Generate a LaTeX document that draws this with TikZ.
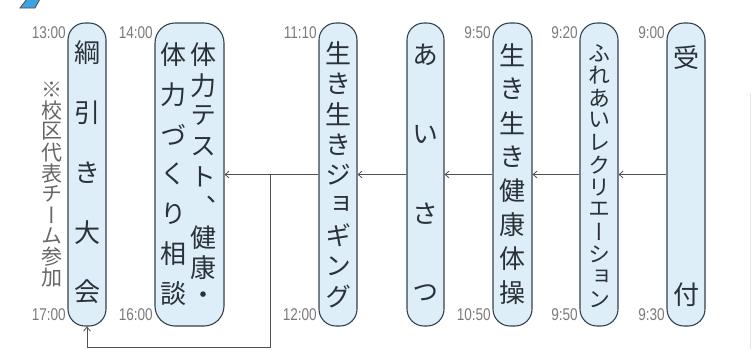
\documentclass[tikz,border=0pt]{standalone}
\usepackage{fontspec}
\setmainfont{Liberation Sans}
\newfontfamily\jpv[RawFeature=+vert]{Noto Sans CJK JP}
\usetikzlibrary{arrows.meta}
\definecolor{pillfill}{HTML}{DDEEF9}
\definecolor{pilldraw}{HTML}{34414E}
\definecolor{linec}{HTML}{505050}
\definecolor{timec}{HTML}{7A7A7A}
\definecolor{notec}{HTML}{666666}
\definecolor{textc}{HTML}{2B3138}
\definecolor{flagblue}{HTML}{3DA3E3}
\newcommand{\vtext}[5][]{%
  \foreach \c [count=\i] in {#5} \node[ch,#1] (#2\i) at (#3,{#4+(\i-1)*\vstep}) {\c};}
\newcommand{\tm}[1]{\scalebox{0.8}[1]{#1}}
\begin{document}
\begin{tikzpicture}[x=1pt,y=-1pt,
  pill/.style={draw=pilldraw, line width=1.1pt, fill=pillfill, rounded corners=17pt,
    inner sep=0pt, minimum height=303pt, minimum width=38pt},
  ch/.style={font=\jpv\fontsize{26}{26}\selectfont, text=textc, inner sep=0pt},
  small/.style={font=\jpv\fontsize{22}{22}\selectfont},
  note/.style={font=\jpv\fontsize{21}{21}\selectfont, text=notec},
  tim/.style={font=\fontsize{17}{17}\selectfont, text=timec, inner sep=0pt, anchor=east},
  conn/.style={draw=linec, line width=0.8pt},
  arr/.style={conn, -{Straight Barb[length=4pt,width=7pt]}}]
\useasboundingbox (0,0) rectangle (752,349);
% decorations
\filldraw[fill=flagblue, draw=black!70, line width=0.8pt] (20,8) -- (27,-1) -- (40,-1) -- (35,8) -- cycle;
\draw[black!10, line width=1pt] (750,93) -- (750,349);
% boxes
\node[pill] (tug) at (87,174.5) {};
\node[pill, rounded corners=20pt, minimum width=69pt] (fit) at (189.5,174.5) {};
\node[pill] (jog) at (338,174.5) {};
\node[pill, minimum width=37pt] (aisatsu) at (425.5,174.5) {};
\node[pill, minimum width=39pt] (taiso) at (512.5,174.5) {};
\node[pill] (rec) at (599,174.5) {};
\node[pill] (uke) at (686,174.5) {};
% texts
\def\vstep{59.75}\vtext{tg}{87}{53}{綱,引,き,大,会}
\def\vstep{30.4}\vtext{fr}{203}{55}{体,力,テ,ス,ト,、,健,康,・}
\def\vstep{39.7}\vtext{fl}{173}{55}{体,力,づ,く,り,相,談}
\def\vstep{30.4}\vtext{jg}{338}{53}{生,き,生,き,ジ,ョ,ギ,ン,グ}
\def\vstep{79.3}\vtext{ai}{425.5}{55}{あ,い,さ,つ}
\def\vstep{34}\vtext{ts}{512.5}{55}{生,き,生,き,健,康,体,操}
\def\vstep{22.4}\vtext[small]{rc}{599}{53}{ふ,れ,あ,い,レ,ク,リ,エ,ー,シ,ョ,ン}
\def\vstep{237}\vtext{uk}{686}{58}{受,付}
\def\vstep{20.8}\vtext[note]{nt}{52}{90}{※,校,区,代,表,チ,ー,ム,参,加}
% times
\node[tim] (t1) at (66,33) {\tm{13:00}};
\node[tim] (t2) at (66,315) {\tm{17:00}};
\node[tim] (t3) at (153,33) {\tm{14:00}};
\node[tim] (t4) at (153,315) {\tm{16:00}};
\node[tim] (t5) at (317,33) {\tm{11:10}};
\node[tim] (t6) at (317,315) {\tm{12:00}};
\node[tim] (t7) at (491,33) {\tm{9:50}};
\node[tim] (t8) at (491,315) {\tm{10:50}};
\node[tim] (t9) at (578,33) {\tm{9:20}};
\node[tim] (t10) at (578,315) {\tm{9:50}};
\node[tim] (t11) at (665,33) {\tm{9:00}};
\node[tim] (t12) at (665,315) {\tm{9:30}};
% connectors
\coordinate (jn) at (270,174.5);
\coordinate (bl) at (270,347);
\draw[arr] (uke.west) -- (rec.east);
\draw[arr] (rec.west) -- (taiso.east);
\draw[arr] (taiso.west) -- (aisatsu.east);
\draw[arr] (aisatsu.west) -- (jog.east);
\draw[conn] (jog.west) -- (jn);
\draw[arr] (jn) -- (fit.east);
\draw[arr] (jn) -- (bl) -| (tug.south);
\end{tikzpicture}
\end{document}
